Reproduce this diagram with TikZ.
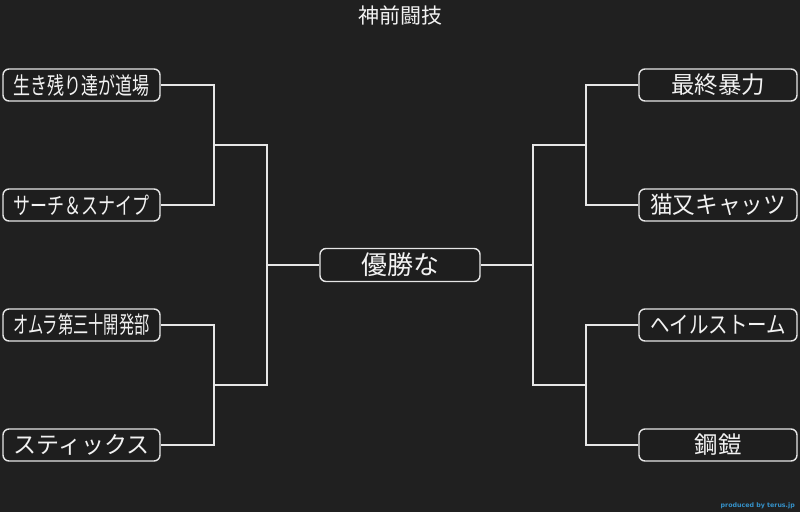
\documentclass[tikz,border=0pt]{standalone}
\usepackage{graphicx}
\usepackage{fontspec}
\setmainfont{Noto Sans CJK JP}
\newfontfamily\creditfont{DejaVu Sans}
\definecolor{bgc}{HTML}{202020}
\definecolor{boxfill}{HTML}{1E1E1E}
\definecolor{linec}{HTML}{E6E6E6}
\definecolor{textc}{HTML}{F2F2F2}
\definecolor{creditc}{HTML}{3592CA}
\newcommand{\fitw}[1]{\resizebox{136pt}{\height}{#1}}
\tikzset{
  team/.style={draw=linec, line width=1.4pt, fill=boxfill, rounded corners=6pt,
    minimum height=32pt, inner sep=0pt, text=textc, font=\fontsize{23.5}{24}\selectfont},
  leftteam/.style={team, minimum width=157pt},
  rightteam/.style={team, minimum width=158pt},
  wire/.style={draw=linec, line width=1.4pt}
}
\begin{document}
\begin{tikzpicture}[x=1pt,y=-1pt]
\fill[bgc] (0,0) rectangle (800,512);
\useasboundingbox (0,0) rectangle (800,512);
\node[text=textc, font=\fontsize{21}{21}\selectfont] (title) at (400,15) {神前闘技};
% left teams
\node[leftteam] (L1) at (81.5,85) {\fitw{生き残り達が道場}};
\node[leftteam] (L2) at (81.5,205) {\fitw{サーチ＆スナイプ}};
\node[leftteam] (L3) at (81.5,325) {\fitw{オムラ第三十開発部}};
\node[leftteam] (L4) at (81.5,445) {\fitw{スティックス}};
% right teams
\node[rightteam] (R1) at (718,85) {最終暴力};
\node[rightteam] (R2) at (718,205) {\fitw{猫又キャッツ}};
\node[rightteam] (R3) at (718,325) {\fitw{ヘイルストーム}};
\node[rightteam] (R4) at (718,445) {鋼鎧};
% center
\node[team, minimum width=160pt, minimum height=33pt, font=\fontsize{26}{26}\selectfont] (C) at (400,265) {優勝な};
% junctions
\coordinate (jl1) at (214,145);
\coordinate (jl2) at (214,385);
\coordinate (jl) at (267,265);
\coordinate (jr1) at (586,145);
\coordinate (jr2) at (586,385);
\coordinate (jr) at (533,265);
\draw[wire] (L1.east) -| (jl1) |- (L2.east);
\draw[wire] (L3.east) -| (jl2) |- (L4.east);
\draw[wire] (jl1) -| (jl) |- (jl2);
\draw[wire] (jl) -- (C.west);
\draw[wire] (R1.west) -| (jr1) |- (R2.west);
\draw[wire] (R3.west) -| (jr2) |- (R4.west);
\draw[wire] (jr1) -| (jr) |- (jr2);
\draw[wire] (jr) -- (C.east);
\node[anchor=east, text=creditc, font=\creditfont\bfseries\fontsize{6.3}{7}\selectfont, inner sep=0pt] (credit) at (795,506) {produced by terus.jp};
\end{tikzpicture}
\end{document}
